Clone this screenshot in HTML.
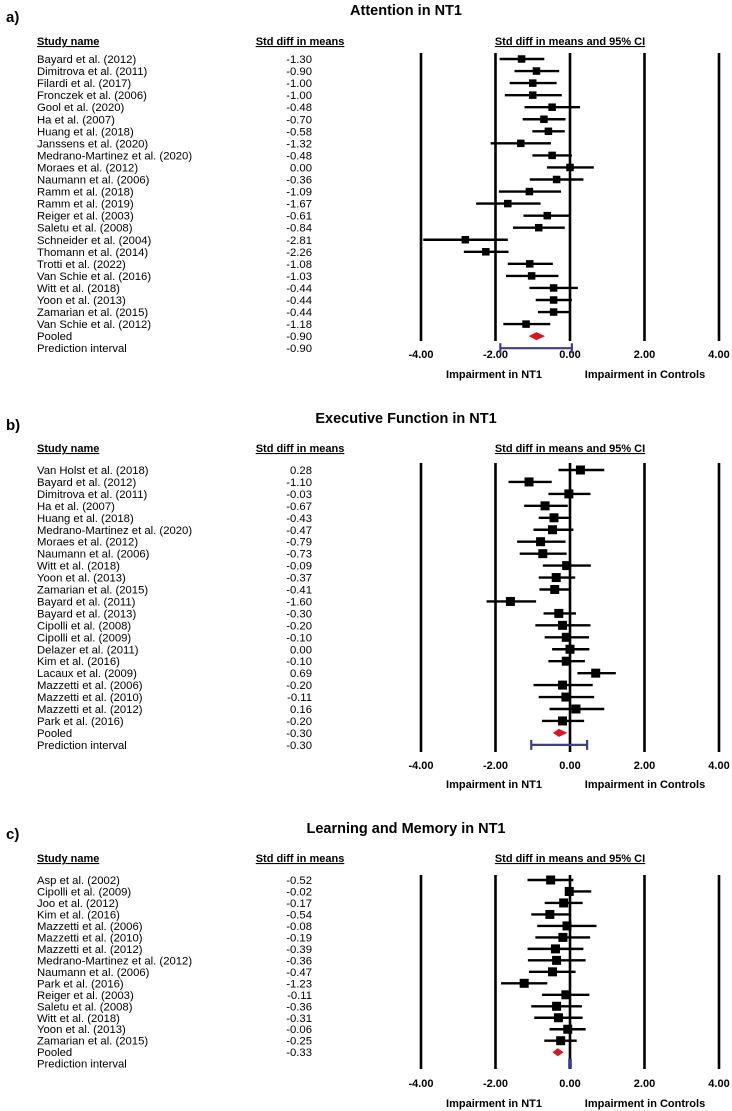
<!DOCTYPE html>
<html><head><meta charset="utf-8"><style>
html,body{margin:0;padding:0;background:#fff;}
svg{display:block;font-family:"Liberation Sans",Arial,sans-serif;}
</style></head><body>
<svg id="chart" width="732" height="1111" viewBox="0 0 732 1111" xmlns="http://www.w3.org/2000/svg"></svg>
<script>
// Panel a: Attention
const aStudies = ["Bayard et al. (2012)","Dimitrova et al. (2011)","Filardi et al. (2017)","Fronczek et al. (2006)","Gool et al. (2020)","Ha et al. (2007)","Huang et al. (2018)","Janssens et al. (2020)","Medrano-Martinez et al. (2020)","Moraes et al. (2012)","Naumann et al. (2006)","Ramm et al. (2018)","Ramm et al. (2019)","Reiger et al. (2003)","Saletu et al. (2008)","Schneider et al. (2004)","Thomann et al. (2014)","Trotti et al. (2022)","Van Schie et al. (2016)","Witt et al. (2018)","Yoon et al. (2013)","Zamarian et al. (2015)","Van Schie et al. (2012)"];
const aMeans = [-1.30,-0.90,-1.00,-1.00,-0.48,-0.70,-0.58,-1.32,-0.48,0.00,-0.36,-1.09,-1.67,-0.61,-0.84,-2.81,-2.26,-1.08,-1.03,-0.44,-0.44,-0.44,-1.18];
const aLower = [-1.89,-1.49,-1.62,-1.75,-1.22,-1.27,-1.01,-2.13,-1.01,-0.62,-1.08,-1.91,-2.52,-1.25,-1.53,-3.94,-2.85,-1.67,-1.72,-1.09,-0.92,-0.86,-1.79];
const aUpper = [-0.69,-0.29,-0.36,-0.22,0.27,-0.12,-0.14,-0.51,0.05,0.64,0.36,-0.24,-0.79,0.00,-0.14,-1.67,-1.65,-0.46,-0.31,0.21,0.05,0.00,-0.53];
const aPooled = [-1.11,-0.90,-0.67];
const aPI = [-1.87,0.05];
const aPooledText = "-0.90";
// Panel b: Executive function
const bStudies = ["Van Holst et al. (2018)","Bayard et al. (2012)","Dimitrova et al. (2011)","Ha et al. (2007)","Huang et al. (2018)","Medrano-Martinez et al. (2020)","Moraes et al. (2012)","Naumann et al. (2006)","Witt et al. (2018)","Yoon et al. (2013)","Zamarian et al. (2015)","Bayard et al. (2011)","Bayard et al. (2013)","Cipolli et al. (2008)","Cipolli et al. (2009)","Delazer et al. (2011)","Kim et al. (2016)","Lacaux et al. (2009)","Mazzetti et al. (2006)","Mazzetti et al. (2010)","Mazzetti et al. (2012)","Park et al. (2016)"];
const bMeans = [0.28,-1.10,-0.03,-0.67,-0.43,-0.47,-0.79,-0.73,-0.09,-0.37,-0.41,-1.60,-0.30,-0.20,-0.10,0.00,-0.10,0.69,-0.20,-0.11,0.16,-0.20];
const bLower = [-0.31,-1.65,-0.58,-1.23,-0.84,-0.98,-1.42,-1.35,-0.73,-0.84,-0.82,-2.24,-0.71,-0.93,-0.68,-0.48,-0.58,0.20,-0.98,-0.84,-0.55,-0.75];
const bUpper = [0.92,-0.49,0.55,-0.06,0.03,0.09,-0.12,-0.09,0.56,0.14,0.00,-0.91,0.16,0.55,0.51,0.52,0.40,1.23,0.61,0.65,0.92,0.38];
const bPooled = [-0.46,-0.30,-0.07];
const bPI = [-1.04,0.46];
const bPooledText = "-0.30";
// Panel c: Learning and memory
const cStudies = ["Asp et al. (2002)","Cipolli et al. (2009)","Joo et al. (2012)","Kim et al. (2016)","Mazzetti et al. (2006)","Mazzetti et al. (2010)","Mazzetti et al. (2012)","Medrano-Martinez et al. (2012)","Naumann et al. (2006)","Park et al. (2016)","Reiger et al. (2003)","Saletu et al. (2008)","Witt et al. (2018)","Yoon et al. (2013)","Zamarian et al. (2015)"];
const cMeans = [-0.52,-0.02,-0.17,-0.54,-0.08,-0.19,-0.39,-0.36,-0.47,-1.23,-0.11,-0.36,-0.31,-0.06,-0.25];
const cLower = [-1.14,-0.12,-0.68,-1.04,-0.88,-0.93,-1.14,-1.13,-1.10,-1.85,-0.75,-1.04,-0.96,-0.55,-0.69];
const cUpper = [0.09,0.57,0.34,0.00,0.71,0.54,0.36,0.42,0.15,-0.61,0.52,0.32,0.34,0.42,0.18];
const cPooled = [-0.47,-0.33,-0.17];
const cPI = [-0.02,0.02];
const cPooledText = "-0.33";
const tickValues = [-4,-2,0,2,4];
const tickLabels = ["-4.00","-2.00","0.00","2.00","4.00"];

const svg = document.getElementById('chart');
const NS = "http://www.w3.org/2000/svg";
function mk(tag, attrs, parent, text){
  const e = document.createElementNS(NS, tag);
  for (const k in attrs) e.setAttribute(k, attrs[k]);
  if (text !== undefined) e.textContent = text;
  (parent || svg).appendChild(e);
  return e;
}
const xScale = v => 570 + v * 37.25;

function panel(p){
  const g = mk('g', {});
  
  
  const lab = mk('text', {x:6, y:p.labelY, 'font-size':15, 'font-weight':'bold'}, g, p.label);
  
  
  const t = mk('text', {x:406, y:p.titleY, 'font-size':14.5, 'font-weight':'bold', 'text-anchor':'middle'}, g, p.title);
  
  
  const h1 = mk('text', {x:37, y:p.headerY, 'font-size':11, 'font-weight':'bold', 'text-decoration':'underline'}, g, 'Study name');
  
  
  const h2 = mk('text', {x:300, y:p.headerY, 'font-size':11, 'font-weight':'bold', 'text-anchor':'middle', 'text-decoration':'underline'}, g, 'Std diff in means');
  
  
  const h3 = mk('text', {x:570, y:p.headerY, 'font-size':11, 'font-weight':'bold', 'text-anchor':'middle', 'text-decoration':'underline'}, g, 'Std diff in means and 95% CI');
  
  
  // gridlines
  tickValues.forEach((v,i)=>{
    const l = mk('line', {x1:xScale(v), x2:xScale(v), y1:p.lineTop, y2:p.lineBot, stroke:'#000', 'stroke-width':2.6}, g);
    
    
    const tl = mk('text', {x:xScale(v), y:p.tickY, 'font-size':11, 'font-weight':'bold', 'text-anchor':'middle'}, g, tickLabels[i]);
    
    
  });
  const s1 = mk('text', {x:494, y:p.subY, 'font-size':11, 'font-weight':'bold', 'text-anchor':'middle'}, g, 'Impairment in NT1');
  
  
  const s2 = mk('text', {x:645, y:p.subY, 'font-size':11, 'font-weight':'bold', 'text-anchor':'middle'}, g, 'Impairment in Controls');
  
  
  const n = p.studies.length;
  for (let i=0;i<n;i++){
    const y = p.y0 + i*p.step;
    const nm = mk('text', {x:37, y:y+4, 'font-size':11.3}, g, p.studies[i]);
    
    
    const vl = mk('text', {x:312, y:y+4, 'font-size':11.3, 'text-anchor':'end'}, g, p.means[i].toFixed(2));
    
    
    const ci = mk('line', {x1:xScale(p.lower[i]), x2:xScale(p.upper[i]), y1:y, y2:y, stroke:'#000', 'stroke-width':2.4}, g);
    
    
    const s = p.sq;
    const r = mk('rect', {x:xScale(p.means[i])-s/2, y:y-s/2, width:s, height:s, fill:'#000'}, g);
    
    
  }
  const py = p.y0 + n*p.step;
  const piy = py + p.step;
  const pn = mk('text', {x:37, y:py+4, 'font-size':11.3}, g, 'Pooled');
  
  
  const pv = mk('text', {x:312, y:py+4, 'font-size':11.3, 'text-anchor':'end'}, g, p.pooledText);
  
  
  const in1 = mk('text', {x:37, y:piy+4, 'font-size':11.3}, g, 'Prediction interval');
  
  
  if (p.showPIText){
    const iv = mk('text', {x:312, y:piy+4, 'font-size':11.3, 'text-anchor':'end'}, g, p.pooledText);
    
    
  }
  const d = mk('polygon', {points:`${xScale(p.pooled[0])},${py} ${xScale(p.pooled[1])},${py-4} ${xScale(p.pooled[2])},${py} ${xScale(p.pooled[1])},${py+4}`, fill:'#e0141c'}, g);
  
  
  const x1 = xScale(p.pi[0]), x2 = xScale(p.pi[1]);
  const pl = mk('path', {d:`M${x1},${piy-5}V${piy+5}M${x1},${piy}H${x2}M${x2},${piy-5}V${piy+5}`, stroke:'#3a3f9a', 'stroke-width':2.2, fill:'none'}, g);
  
  
}

panel({id:'attention', label:'a)', title:'Attention in NT1', labelY:22, titleY:15, headerY:45,
  y0:59, step:12.05, lineTop:53, lineBot:341, tickY:358, subY:378, sq:7.5,
  studies:aStudies, means:aMeans, lower:aLower, upper:aUpper, pooled:aPooled, pi:aPI, pooledText:aPooledText, showPIText:true});
panel({id:'executive', label:'b)', title:'Executive Function in NT1', labelY:430, titleY:423, headerY:452,
  y0:470, step:11.95, lineTop:463, lineBot:752, tickY:769, subY:788, sq:9,
  studies:bStudies, means:bMeans, lower:bLower, upper:bUpper, pooled:bPooled, pi:bPI, pooledText:bPooledText, showPIText:true});
panel({id:'memory', label:'c)', title:'Learning and Memory in NT1', labelY:839, titleY:833, headerY:862,
  y0:880, step:11.48, lineTop:875, lineBot:1069, tickY:1087, subY:1107, sq:9,
  studies:cStudies, means:cMeans, lower:cLower, upper:cUpper, pooled:cPooled, pi:cPI, pooledText:cPooledText, showPIText:false});
</script>
</body></html>
